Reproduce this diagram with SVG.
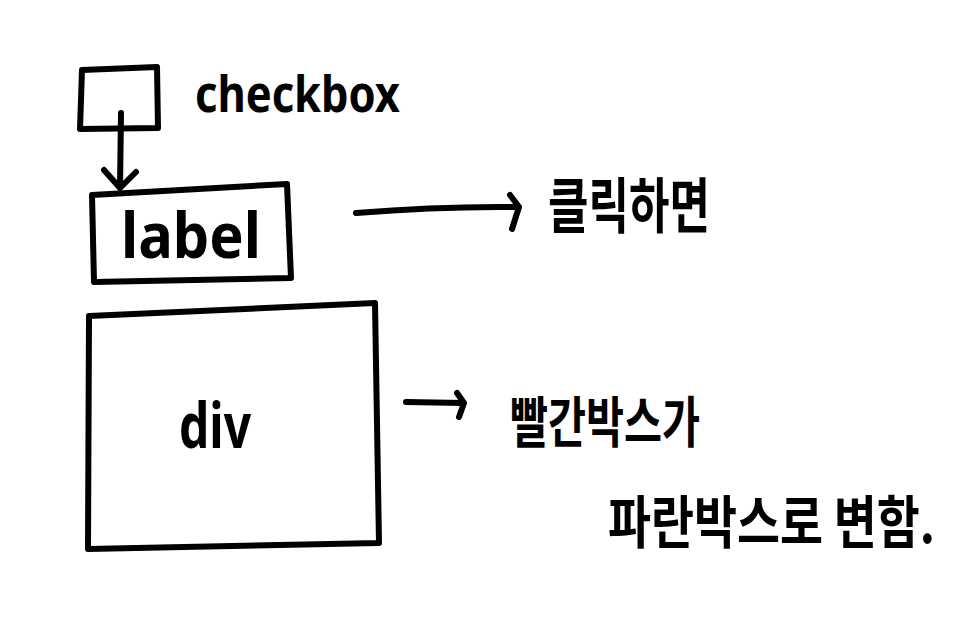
<svg xmlns="http://www.w3.org/2000/svg" width="978" height="628" viewBox="0 0 978 628">
<style>
.s{fill:none;stroke:#000;stroke-width:6;stroke-linecap:round;stroke-linejoin:round}
.t{font-family:"Noto Sans","Noto Sans CJK KR",sans-serif;fill:#000;font-weight:700}
.k{font-family:"Noto Sans CJK KR",sans-serif;fill:#000;font-weight:700}
</style>
<rect width="978" height="628" fill="#fff"/>
<g id="checkbox">
<path class="s" d="M82,70 L157,67 L158,128 L80,129 Z"/>
<text class="t" x="195" y="112" font-size="50" textLength="205" lengthAdjust="spacingAndGlyphs">checkbox</text>
</g>
<g id="label">
<path class="s" d="M92,195 L287,184 L291,278 L94,282 Z"/>
<text class="t" x="191" y="258" font-size="62" text-anchor="middle" textLength="140" lengthAdjust="spacingAndGlyphs">label</text>
</g>
<g id="div">
<path class="s" d="M89,316 L375,303 L379,543 L88,549 Z"/>
<text class="t" x="215" y="448" font-size="62" text-anchor="middle" textLength="72" lengthAdjust="spacingAndGlyphs">div</text>
</g>
<g id="text1">
<text class="k" x="548" y="230" font-size="50" textLength="162" lengthAdjust="spacingAndGlyphs" transform="translate(0,-48) scale(1,1.2)">클릭하면</text>
</g>
<g id="text2">
<text class="k" x="510" y="442" font-size="46" textLength="190" lengthAdjust="spacingAndGlyphs" transform="translate(0,-80) scale(1,1.18)">빨간박스가</text>
</g>
<g id="text3">
<text class="k" x="608" y="542" font-size="48" textLength="327" lengthAdjust="spacingAndGlyphs" transform="translate(0,-97) scale(1,1.18)">파란박스로 변함.</text>
</g>
<g id="connectors">
<path class="s" d="M121,113 L120,188 M104,170 L120,188 L136,172"/>
<path class="s" d="M356,213 Q440,206 519,207 M510,195 L519,207 L512,229"/>
<path class="s" d="M406,402 L464,403 M457,393 L464,403 L459,417"/>
</g>
</svg>
